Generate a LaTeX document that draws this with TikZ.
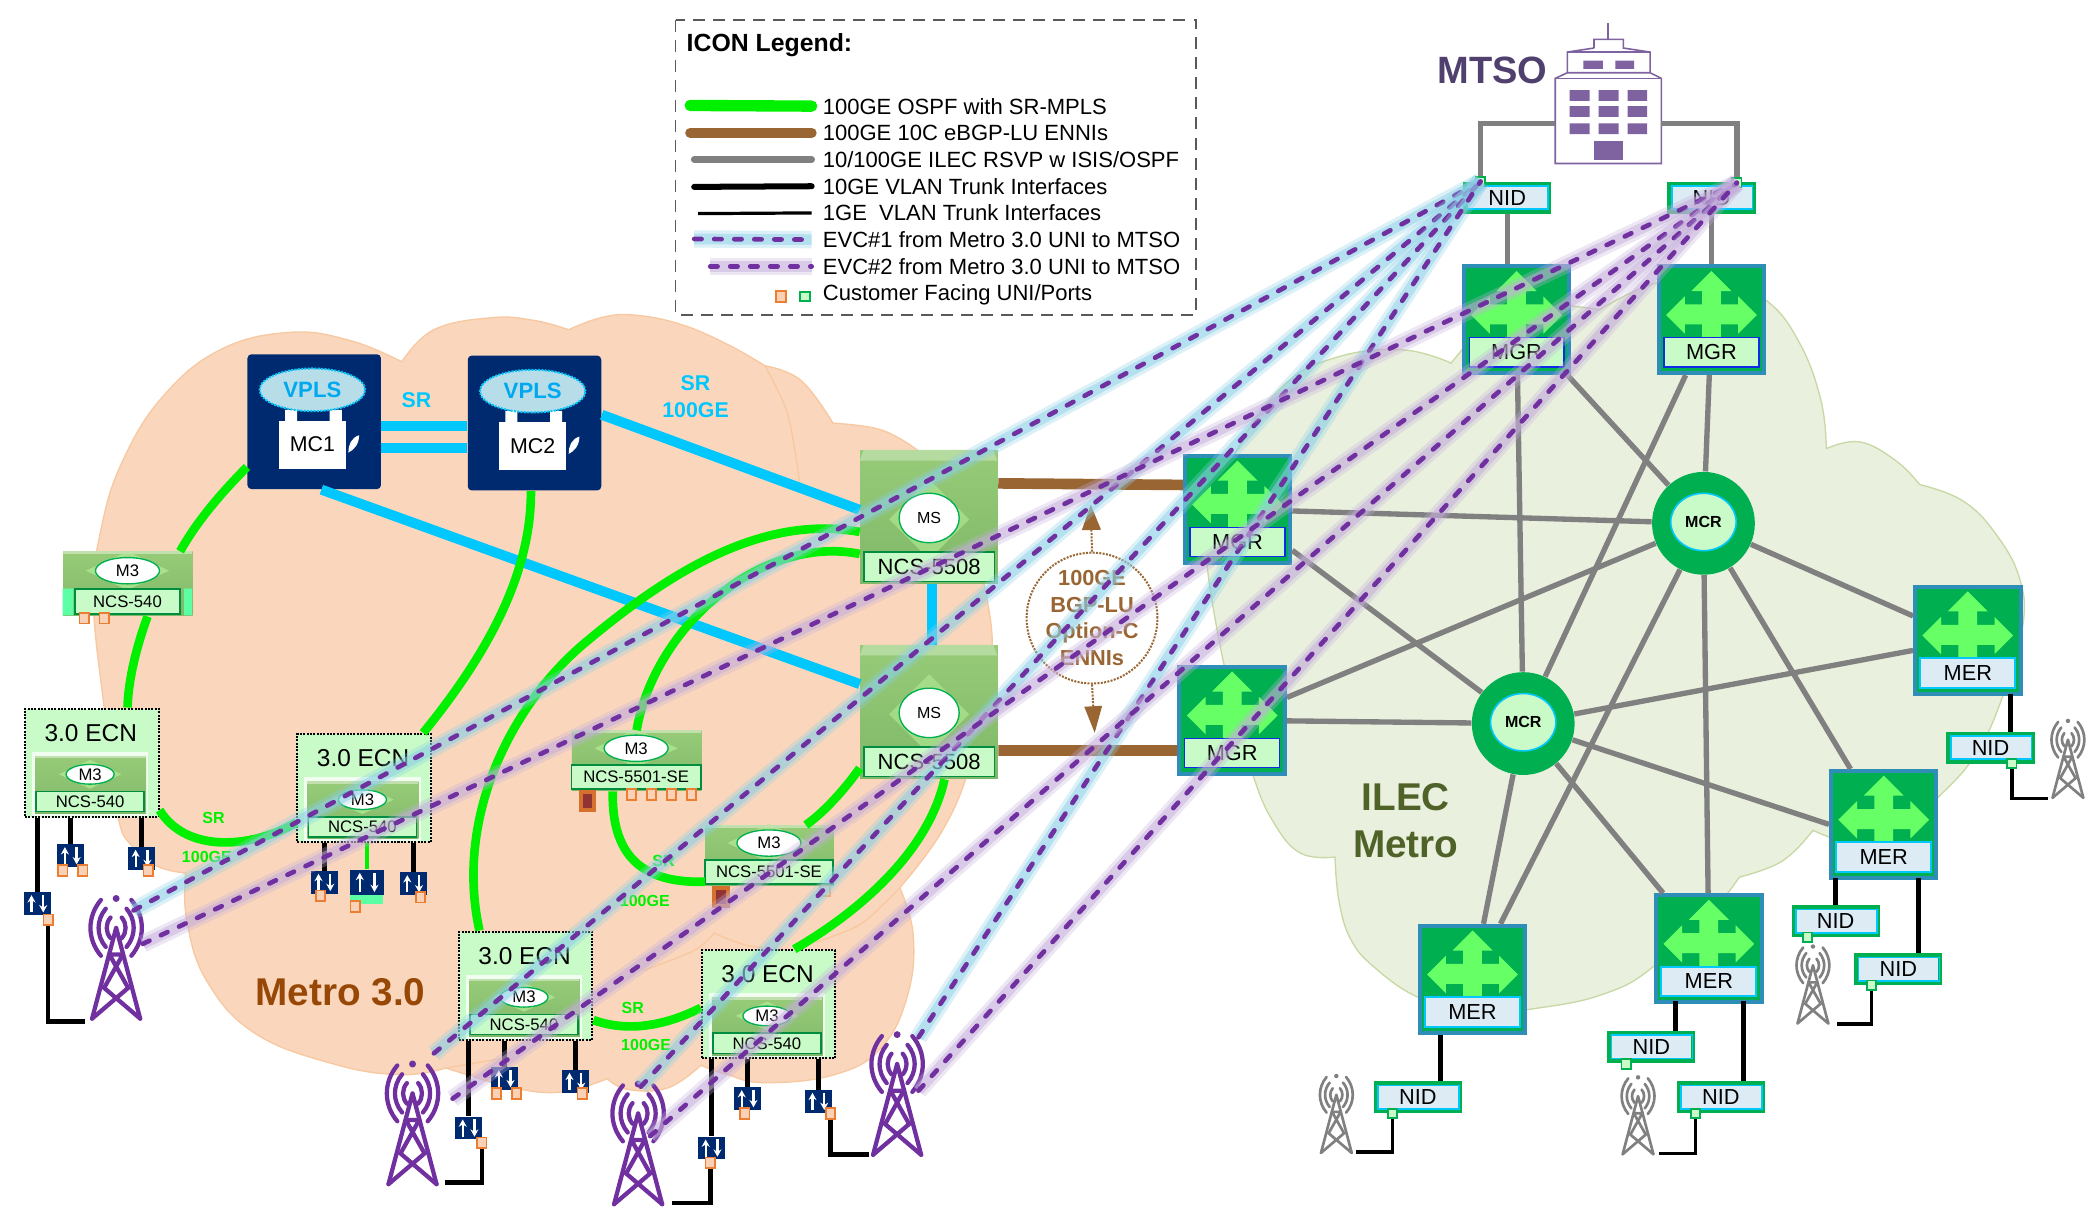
\documentclass[tikz,border=0pt]{standalone}
\usepackage{fontspec}
\setmainfont{Liberation Sans}
\usetikzlibrary{shapes.geometric,arrows.meta}

\definecolor{peachfill}{HTML}{FAD7BC}
\definecolor{peachedge}{HTML}{F8C8A0}
\definecolor{ilecfill}{HTML}{EAF0DE}
\definecolor{ilecedge}{HTML}{C8D8A4}
\definecolor{limeline}{HTML}{00F000}
\definecolor{skyline}{HTML}{00C8FF}
\definecolor{brownline}{HTML}{996633}
\definecolor{greyline}{HTML}{808080}
\definecolor{evcpurple}{HTML}{7030A0}
\definecolor{evcblueglow}{HTML}{8CCFE6}
\definecolor{evcpurpleglow}{HTML}{C4AEDB}
\definecolor{navybox}{HTML}{002A70}
\definecolor{routergreen}{HTML}{00B050}
\definecolor{routerarrow}{HTML}{66FF66}
\definecolor{routeredge}{HTML}{2E8EB8}
\definecolor{palegreen}{HTML}{C8FBC8}
\definecolor{paleblue}{HTML}{DCEBF4}
\definecolor{portorange}{HTML}{ED7D31}
\definecolor{bldgpurple}{HTML}{7F63A1}
\definecolor{mtopgreen}{HTML}{97CB78}
\definecolor{mlowgreen}{HTML}{7FB868}
\definecolor{mglowgreen}{HTML}{B4EC96}
\definecolor{stripgreen}{HTML}{5CFFA3}
\definecolor{vplsfill}{HTML}{B7DDE8}
\definecolor{vplstext}{HTML}{00A8F0}
\definecolor{metrobrown}{HTML}{974806}
\definecolor{ilecolive}{HTML}{4F6228}
\definecolor{mtsotextc}{HTML}{50406E}

\newcommand{\fsz}[1]{\fontsize{#1}{#1}\selectfont}

\tikzset{every picture/.style={line width=0.75pt},
  peachcloud/.style={fill=peachfill,draw=peachedge,line width=1pt},
  peachinner/.style={draw=peachedge,line width=1pt},
  ileccloud/.style={fill=ilecfill,draw=ilecedge,line width=1pt},
  greenlink/.style={draw=limeline,line width=6.5pt},
  bluelink/.style={draw=skyline,line width=7.5pt},
  brownlink/.style={draw=brownline,line width=8pt},
  greylink/.style={draw=greyline,line width=4pt},
  blacklink/.style={draw=black,line width=3.5pt},
  thinlink/.style={draw=black,line width=2.5pt},
  evcone/.style={draw=evcpurple,line width=3.5pt,line cap=round,dash pattern=on 5.5pt off 9.5pt,
    preaction={draw=evcblueglow,solid,line cap=butt,line width=13pt,opacity=.3},
    preaction={draw=evcblueglow,solid,line cap=butt,line width=8pt,opacity=.5}},
  evctwo/.style={draw=evcpurple,line width=3.5pt,line cap=round,dash pattern=on 5.5pt off 9.5pt,
    preaction={draw=evcpurpleglow,solid,line cap=butt,line width=13pt,opacity=.3},
    preaction={draw=evcpurpleglow,solid,line cap=butt,line width=8pt,opacity=.5}},
  routerbody/.style={draw=routeredge,fill=routergreen,line width=3pt,minimum width=79pt,minimum height=80pt,inner sep=0},
  mgrlabel/.style={draw=blue!70!routeredge,fill=palegreen,line width=1pt,minimum width=71pt,minimum height=22pt,inner sep=0,font=\fsz{16.3}},
  merlabel/.style={draw=skyline,fill=paleblue,line width=1.5pt,minimum width=71pt,minimum height=22pt,inner sep=0,font=\fsz{16.3}},
  nidbody/.style={draw=routergreen,fill=paleblue,line width=3pt,minimum width=63pt,minimum height=21pt,inner sep=0,font=\fsz{16.3}},
  mcrring/.style={circle,draw=none,fill=routergreen,minimum size=77pt,inner sep=0},
  mcrcore/.style={ellipse,draw=skyline,fill=palegreen,line width=1.2pt,minimum width=49pt,minimum height=43pt,inner sep=0,font=\bfseries\fsz{12}},
  mbody/.style={top color=mtopgreen,bottom color=mlowgreen,draw=none,inner sep=0},
  moval/.style={ellipse,draw=routergreen,fill=white,line width=1pt,inner sep=0,font=\fsz{12.5}},
  mlabel/.style={draw=routergreen!80!black,fill=palegreen,line width=1.2pt,inner sep=0,font=\fsz{12.5}},
  ecnbody/.style={draw=black,densely dotted,fill=palegreen,line width=1.5pt,minimum width=100pt,minimum height=81pt,inner sep=0},
  ecntitle/.style={inner sep=0,font=\fsz{18.3}},
  iconbox/.style={fill=navybox,draw=none,inner sep=0},
  iconarrow/.style={draw=white,line width=1.7pt,-{Stealth[length=5.5pt,width=6pt]}},
  oport/.style={draw=portorange,fill=portorange!35,line width=1.3pt,minimum width=7pt,minimum height=8pt,inner sep=0},
  gport/.style={draw=routergreen,fill=palegreen,line width=1.3pt,minimum width=7pt,minimum height=7pt,inner sep=0},
  darkport/.style={draw=portorange!90!black,fill=red!45!black!80,line width=3pt,minimum width=10pt,minimum height=14pt,inner sep=0},
  srtext/.style={inner sep=0,text=limeline,font=\bfseries\fsz{12}},
  skytext/.style={inner sep=0,text=skyline,font=\bfseries\fsz{16}},
  legtext/.style={anchor=west,inner sep=0,font=\fsz{16.5}}}

%router with the four way arrow
\newcommand{\routerbox}[5]{%
  \node[routerbody,anchor=north west] (#1) at (#2,#3) {};
  \begin{scope}[shift={(#2+41,#3)}]
    \fill[routerarrow] (0,5) -- (15,20) -- (7,20) -- (7,30) -- (20,30) -- (20,24) -- (34,38) -- (20,52) -- (20,45) -- (7,45) -- (7,55) -- (-7,55) -- (-7,45) -- (-20,45) -- (-20,52) -- (-34,38) -- (-20,24) -- (-20,30) -- (-7,30) -- (-7,20) -- (-15,20) -- cycle;
    \node[#5] (#1-label) at (0,66) {#4};
  \end{scope}}
%small box with an oval on top of its label
\newcommand{\mdev}[9]{%
  \node[mbody,anchor=north west,minimum width=#4pt,minimum height=#5pt] (#1) at (#2,#3) {};
  \begin{scope}[shift={(#2,#3)}]
    \fill[mglowgreen,opacity=.7] (#4/2-1.3*#6,#5/2-#8/2) -- (#4/2,#5/2-#8/2-0.6*#6) -- (#4/2+1.3*#6,#5/2-#8/2) -- (#4/2,#5/2-#8/2+0.6*#6) -- cycle;
    \fill[white!40!mtopgreen] (0,0) rectangle (#4,2);
    \node[moval,minimum width=2*#6pt,minimum height=0.82*#6pt] (#1-oval) at (#4/2,#5/2-#8/2) {M3};
    \node[mlabel,minimum width=#4pt-2*#9pt,minimum height=#8pt] (#1-label) at (#4/2,#5-#8/2-1) {#7};
  \end{scope}}
\newcommand{\msdev}[3]{%
  \node[mbody,anchor=north west,minimum width=103pt,minimum height=100pt] (#1) at (#2,#3) {};
  \begin{scope}[shift={(#2,#3)}]
    \fill[white!30!mtopgreen] (3,0) -- (100,0) -- (103,8) -- (0,8) -- cycle;
    \fill[mglowgreen,opacity=.6] (52,22) -- (82,52) -- (52,82) -- (22,52) -- cycle;
    \node[moval,minimum width=45pt,minimum height=37pt,font=\fsz{12}] (#1-oval) at (52,51) {MS};
    \node[mlabel,minimum width=98pt,minimum height=22pt,font=\fsz{16.5}] (#1-label) at (52,87.5) {NCS-5508};
  \end{scope}}
\newcommand{\ecnbox}[3]{%
  \node[ecnbody,anchor=north west] (#1) at (#2,#3) {};
  \node[ecntitle] (#1-title) at (#2+50,#3+19) {3.0 ECN};
  \fill[white,opacity=.75] (#2+6,#3+33) rectangle (#2+93,#3+81);
  \mdev{#1-dev}{#2+8}{#3+36}{83}{43}{18}{NCS-540}{15}{1}}
\newcommand{\mcbox}[4]{%
  \node[fill=navybox,rounded corners=3pt,minimum width=100pt,minimum height=101pt,inner sep=0,anchor=north west] (#1) at (#2,#3) {};
  \begin{scope}[shift={(#2,#3)}]
    \fill[white] (28.5,42) rectangle (37.5,52) (62,42) rectangle (71,52);
    \node[ellipse,draw=skyline,densely dotted,fill=vplsfill,line width=1.5pt,minimum width=79pt,minimum height=32pt,inner sep=0,text=vplstext,font=\bfseries\fsz{16.6}] (#1-vpls) at (49,27) {VPLS};
    \node[fill=white,minimum width=50pt,minimum height=36pt,inner sep=0,font=\fsz{16}] (#1-lbl) at (49,68) {#4};
    \fill[white] (84,61) .. controls (84,68) and (80,72) .. (76,74) .. controls (76,68) and (78,63) .. cycle;
  \end{scope}}
\newcommand{\trunkicon}[5]{%
  \node[iconbox,minimum width=#4pt,minimum height=#5pt] (#1) at (#2,#3) {};
  \draw[iconarrow] (#2-0.22*#4,#3+0.38*#5) -- (#2-0.22*#4,#3-0.38*#5);
  \draw[iconarrow] (#2+0.22*#4,#3-0.38*#5) -- (#2+0.22*#4,#3+0.38*#5);}
\newcommand{\towerpic}[5]{%
  \begin{scope}[shift={(#2,#3)},scale=#4,#5,line cap=round]
    \draw (0,22) -- (-18,90) (0,22) -- (18,90);
    \draw (-5,42) -- (9,67) -- (-18,90) (5,42) -- (-9,67) -- (18,90) (-5,42) -- (5,42);
    \foreach \r in {7,13,19}{
      \draw (-0.6*\r,22-1.1*\r) .. controls (-1.15*\r,22-0.45*\r) and (-1.15*\r,22+0.45*\r) .. (-0.6*\r,22+1.1*\r);
      \draw (0.6*\r,22-1.1*\r) .. controls (1.15*\r,22-0.45*\r) and (1.15*\r,22+0.45*\r) .. (0.6*\r,22+1.1*\r);}
    \fill circle (2.6);
    \coordinate (#1) at (0,22);
  \end{scope}}
\newcommand{\nidbox}[3]{%
  \node[nidbody,anchor=north west] (#1) at (#2,#3) {NID};
  \draw[skyline,line width=1.3pt] (#2+3.2,#3+3.2) rectangle (#2+63.8,#3+20.8);}

\begin{document}
\begin{tikzpicture}[x=1pt,y=1pt,yscale=-1,xscale=1]
\useasboundingbox (0,0) rectangle (1567.8,920.6);

%Shape: Cloud Metro 3.0
\draw[peachcloud] plot[smooth,tension=.7] coordinates {(139,654) (118,649) (100,635) (88,610) (78,530) (70,450) (76,395) (92,345) (122,297) (165,262) (217,249) (262,255) (301,271)}
 -- plot[smooth,tension=.7] coordinates {(301,271) (325,247) (368,238) (400,240) (426,247)}
 -- plot[smooth,tension=.7] coordinates {(426,247) (450,238) (475,236) (510,243) (545,258) (573,274)}
 -- plot[smooth,tension=.7] coordinates {(573,274) (600,285) (624,317)}
 -- plot[smooth,tension=.7] coordinates {(624,317) (660,322) (687,337)}
 -- plot[smooth,tension=.7] coordinates {(687,337) (718,375) (739,447) (742,505) (727,572) (706,622) (674,665)}
 -- plot[smooth,tension=.7] coordinates {(674,665) (684,700) (680,745) (660,785) (625,805) (573,811) (545,805) (525,798)}
 -- plot[smooth,tension=.7] coordinates {(525,798) (500,815) (470,816) (455,808)}
 -- plot[smooth,tension=.7] coordinates {(455,808) (420,818) (385,815) (350,805) (334,800)}
 -- plot[smooth,tension=.7] coordinates {(334,800) (300,805) (250,797) (191,774) (155,735) (140,690) (139,654)} -- cycle;
\draw[peachinner] plot[smooth] coordinates {(573,274) (590,310) (599,361)};
\draw[peachinner] plot[smooth] coordinates {(482,727) (520,712) (535,699)};
\draw[peachinner] plot[smooth] coordinates {(535,699) (559,708) (597,713)};
\draw[peachinner] plot[smooth] coordinates {(674,665) (645,692) (611,706)};
\draw[peachinner] plot[smooth] coordinates {(334,800) (375,793)};
%Shape: Cloud ILEC
\draw[ileccloud] plot[smooth,tension=.7] coordinates {(1087,272) (1112,245) (1140,232) (1170,229) (1198,232)}
 -- plot[smooth,tension=.7] coordinates {(1198,232) (1240,212) (1285,208) (1323,225) (1348,257) (1364,300) (1368,336)}
 -- plot[smooth,tension=.7] coordinates {(1368,336) (1393,331) (1420,345) (1438,363)}
 -- plot[smooth,tension=.7] coordinates {(1438,363) (1470,375) (1495,400) (1513,434) (1515,470) (1500,522) (1480,565) (1451,598) (1420,625) (1390,632) (1358,622)}
 -- plot[smooth,tension=.7] coordinates {(1358,622) (1335,645) (1303,657)} -- (1295,668)
 -- plot[smooth,tension=.7] coordinates {(1295,668) (1241,722) (1200,745) (1146,756) (1103,760) (1062,747) (1030,725) (1012,704) (1003,675) (1000,642)}
 -- plot[smooth,tension=.7] coordinates {(1000,642) (974,639) (954,616) (939,582) (925,530) (914,484) (904,422) (905,395) (925,340) (960,290) (1000,268) (1050,262) (1087,272)} -- cycle;

%Shape: Legend frame
\draw[dash pattern={on 9pt off 6pt},draw=black!65,line width=1.4pt] (506,15) rectangle (896,236);
% Text Node
\node[anchor=west,inner sep=0,font=\bfseries\fsz{18.6}] (legtitle) at (514,34) {ICON Legend:};
\node[legtext] (leggreen) at (616,79.5) {100GE OSPF with SR-MPLS};
\node[legtext] (legbrown) at (616,99.5) {100GE 10C eBGP-LU ENNIs};
\node[legtext] (leggrey) at (616,119.5) {10/100GE ILEC RSVP w ISIS/OSPF};
\node[legtext] (legblack) at (616,139.5) {10GE VLAN Trunk Interfaces};
\node[legtext] (legthin) at (616,159.5) {1GE\ \ VLAN Trunk Interfaces};
\node[legtext] (legone) at (616,179.5) {EVC\#1 from Metro 3.0 UNI to MTSO};
\node[legtext] (legtwo) at (616,199.5) {EVC\#2 from Metro 3.0 UNI to MTSO};
\node[legtext] (legport) at (616,220.5) {Customer Facing UNI/Ports};
\node[oport] (legoport) at (585,222) {};
\node[gport] (leggport) at (603,222) {};
%Straight Lines
\draw[limeline,line width=8.5pt,line cap=round] (517,79) -- ([xshift=-8pt]leggreen.west);
\draw[brownline,line width=7.5pt,line cap=round] (517,99.5) -- ([xshift=-8pt]legbrown.west);
\draw[greyline,line width=5pt,line cap=round] (520,119.5) -- ([xshift=-8pt]leggrey.west);
\draw[black,line width=4.5pt,line cap=round] (520,140) -- ([xshift=-8pt]legblack.west);
\draw[black,line width=2.4pt] (523,160) -- ([xshift=-8pt]legthin.west);
\draw[evcone] (520,179) -- ([xshift=-8pt]legone.west);
\draw[evctwo] (532,199.5) -- ([xshift=-8pt]legtwo.west);

%Shape: MTSO building
\begin{scope}[draw=bldgpurple,line width=1.2pt]
\draw (1204.5,17.5) -- (1204.5,29.5);
\draw (1194,36) -- (1194,29.5) -- (1216,29.5) -- (1216,36) -- (1236,39) -- (1236,55) (1194,36) -- (1174,39) -- (1174,55);
\draw (1174,39) -- (1236,39);
\draw[fill=white] (1165,58.7) -- (1174,54.5) -- (1236,54.5) -- (1244.5,58.7) -- (1244.5,122.5) -- (1165,122.5) -- cycle;
\draw (1165,58.7) -- (1244.5,58.7);
\fill[bldgpurple] (1186,45.5) rectangle (1200.7,51.5) (1210,45.5) rectangle (1224,51.5);
\foreach \wy in {67.5,79.5,92.5}{
  \fill[bldgpurple] (1175.7,\wy) rectangle (1190.7,\wy+8) (1197.4,\wy) rectangle (1212.4,\wy+8) (1219.2,\wy) rectangle (1233.7,\wy+8);}
\fill[bldgpurple] (1193.7,105.7) rectangle (1215.7,119.5);
\end{scope}
\coordinate (mtsoleft) at (1165,92.5);
\coordinate (mtsoright) at (1244.5,92.5);
% Text Node
\node[inner sep=0,text=mtsotextc,font=\bfseries\fsz{28.5}] (mtsotext) at (1118,53) {MTSO};
\node[inner sep=0,text=metrobrown,font=\bfseries\fsz{29}] (metrotext) at (255,743) {Metro 3.0};
\node[inner sep=0,align=center,text=ilecolive,font=\bfseries\fontsize{29}{35}\selectfont] (ilectext) at (1053,615) {ILEC\\Metro};

%Shape: MC routers
\mcbox{mcone}{185}{265}{MC1}
\mcbox{mctwo}{350}{266}{MC2}
%Shape: MS routers
\msdev{msa}{644}{337}
\msdev{msb}{644}{483}
%Shape: M3 routers
\mdev{ncsa}{47}{413}{97}{48}{24}{NCS-540}{19}{9}
\fill[stripgreen] (47,441) rectangle (55,461) (138,441) rectangle (144,461);
\mdev{dse}{428}{547}{97}{45}{24}{NCS-5501-SE}{18}{0}
\mdev{dsf}{528}{618}{96}{45}{24}{NCS-5501-SE}{18}{0}
%Shape: ECN boxes
\ecnbox{ecna}{18}{530}
\ecnbox{ecnb}{222}{549}
\ecnbox{ecnc}{343}{697}
\ecnbox{ecnd}{525}{711}

%Shape: ILEC routers
\routerbox{mgra}{1095}{198}{MGR}{mgrlabel}
\routerbox{mgrb}{1241}{198}{MGR}{mgrlabel}
\routerbox{mgrc}{886}{340}{MGR}{mgrlabel}
\routerbox{mgrd}{882}{498}{MGR}{mgrlabel}
\routerbox{mera}{1433}{438}{MER}{merlabel}
\routerbox{merb}{1370}{576}{MER}{merlabel}
\routerbox{merc}{1239}{669}{MER}{merlabel}
\routerbox{merd}{1062}{692}{MER}{merlabel}
\node[mcrring] (mcra) at (1276,392) {};
\node[mcrcore] (mcra-core) at (1276,391) {MCR};
\node[mcrring] (mcrb) at (1141,542) {};
\node[mcrcore] (mcrb-core) at (1141,541) {MCR};

%Shape: NID boxes
\nidbox{nida}{1096}{136}
\nidbox{nidb}{1249}{136}
\nidbox{nidc}{1458}{548}
\nidbox{nidd}{1342}{678}
\nidbox{nide}{1389}{714}
\nidbox{nidf}{1204}{772}
\nidbox{nidg}{1256}{810}
\nidbox{nidh}{1029}{810}
\node[gport] (nida-port) at (1109,136) {};
\node[gport] (nidb-port) at (1301,137) {};
\node[gport] (nidc-port) at (1507,572) {};
\node[gport] (nidd-port) at (1354,702) {};
\node[gport] (nide-port) at (1402,738) {};
\node[gport] (nidf-port) at (1218,797) {};
\node[gport] (nidg-port) at (1270,834) {};
\node[gport] (nidh-port) at (1043,834) {};

%Shape: Towers
\towerpic{towa}{87}{673}{1}{draw=evcpurple,fill=evcpurple,line width=3.2pt}
\towerpic{towb}{309}{797}{1}{draw=evcpurple,fill=evcpurple,line width=3.2pt}
\towerpic{towc}{478}{812}{1}{draw=evcpurple,fill=evcpurple,line width=3.2pt}
\towerpic{towd}{672}{775}{1}{draw=evcpurple,fill=evcpurple,line width=3.2pt}
\towerpic{towe}{1001}{806}{0.64}{draw=greyline,fill=greyline,line width=2pt}
\towerpic{towf}{1227}{807}{0.64}{draw=greyline,fill=greyline,line width=2pt}
\towerpic{towg}{1358}{709}{0.64}{draw=greyline,fill=greyline,line width=2pt}
\towerpic{towh}{1549}{540}{0.64}{draw=greyline,fill=greyline,line width=2pt}

%Shape: Trunk icons and ports
\node[oport] (ncsa-pa) at (63,463) {};
\node[oport] (ncsa-pb) at (78,463) {};
\trunkicon{icona}{28}{677}{20}{17}
\trunkicon{iconb}{53}{641}{20}{17}
\trunkicon{iconc}{106}{643}{20}{17}
\node[oport] (icona-p) at (36,689) {};
\node[oport] (iconb-pa) at (47,652) {};
\node[oport] (iconb-pb) at (62,652) {};
\node[oport] (iconc-p) at (111,652) {};
\trunkicon{icond}{243}{661}{20}{17}
\trunkicon{icone}{275}{661}{25}{19}
\trunkicon{iconf}{309.5}{662}{20}{17}
\fill[stripgreen] (262,670.5) rectangle (287,677);
\node[oport] (icond-p) at (240,671) {};
\node[oport] (icone-p) at (266,679) {};
\node[oport] (iconf-p) at (315,672) {};
\trunkicon{icong}{351}{845}{20}{17}
\trunkicon{iconh}{378}{808}{20}{17}
\trunkicon{iconi}{431}{810}{20}{17}
\node[oport] (icong-p) at (361,856) {};
\node[oport] (iconh-pa) at (372,819) {};
\node[oport] (iconh-pb) at (387,819) {};
\node[oport] (iconi-p) at (436,819) {};
\trunkicon{iconj}{533}{860}{20}{17}
\trunkicon{iconk}{560}{823}{20}{17}
\trunkicon{iconl}{613}{825}{20}{17}
\node[oport] (iconj-p) at (532,871) {};
\node[oport] (iconk-p) at (558,834) {};
\node[oport] (iconl-p) at (622,834) {};
\node[darkport] (dse-dark) at (440,600) {};
\node[darkport] (dsf-dark) at (540,672) {};
\node[oport] (dse-pa) at (473,595) {};
\node[oport] (dse-pb) at (488,595) {};
\node[oport] (dse-pc) at (503,595) {};
\node[oport] (dse-pd) at (518,595) {};
\node[oport,opacity=.5] (dsf-pa) at (618,667) {};

%Straight Lines
\draw[bluelink] ([yshift=3.5pt]mcone.east) -- ([yshift=2.5pt]mctwo.west);
\draw[bluelink] ([yshift=19.5pt]mcone.east) -- ([yshift=18.5pt]mctwo.west);
\draw[bluelink] (mctwo.7) -- (msa.174);
\draw[bluelink] (mcone.-84) -- (msb.158);
\draw[bluelink] ([xshift=2.5pt]msa.south) -- ([xshift=2.5pt]msb.north);
\draw[brownlink] (msa.26) -- (mgrc.156);
\draw[brownlink] (msb.-29) -- (mgrd.209);
%Curve Lines
\draw[greenlink] (mcone.214) .. controls (160,375) and (145,395) .. (ncsa.32);
\draw[greenlink] (ncsa.-59) .. controls (102,485) and (96,510) .. (ecna.57);
\draw[greenlink] (mctwo.-93) .. controls (398,430) and (365,490) .. (ecnb.43);
\draw[greenlink] (ecna.-35) .. controls (140,640) and (190,635) .. (ecnb.207);
\draw[greenlink] (msa.192) .. controls (570,385) and (500,430) .. (440,480) .. controls (385,525) and (340,610) .. (ecnc.130);
\draw[greenlink] (msa.208) .. controls (570,400) and (490,470) .. (dse.north);
\draw[greenlink] (dse.232) .. controls (458,640) and (480,662) .. (dsf.202);
\draw[greenlink] (msb.219) .. controls (630,595) and (615,610) .. (dsf.40);
\draw[greenlink] (msb.-77) .. controls (695,640) and (640,685) .. (ecnd.65);
\draw[greenlink] (ecnc.-27) .. controls (475,775) and (505,765) .. (ecnd.183);

%Straight Lines
\draw[greylink] (mtsoleft) -| (nida-port);
\draw[greylink] (mtsoright) -| (nidb-port);
\draw[greylink] (nida.south) -- (nida.south |- mgra.north);
\draw[greylink] (nidb.south) -- (nidb.south |- mgrb.north);
\draw[greylink] (mgra) -- (mcrb);
\draw[greylink] (mgra) -- (mcra);
\draw[greylink] (mgrb) -- (mcrb);
\draw[greylink] (mgrb) -- (mcra);
\draw[greylink] (mgrc) -- (mcra);
\draw[greylink] (mgrc) -- (mcrb);
\draw[greylink] (mgrd) -- (mcra);
\draw[greylink] (mgrd) -- (mcrb);
\draw[greylink] (mera) -- (mcra);
\draw[greylink] (mera) -- (mcrb);
\draw[greylink] (merb) -- (mcra);
\draw[greylink] (merb.west) -- (mcrb);
\draw[greylink] (merc) -- (mcra);
\draw[greylink] (merc) -- (mcrb);
\draw[greylink] (merd) -- (mcra);
\draw[greylink] (merd) -- (mcrb);

\coordinate (enda) at (64,765);
\coordinate (endb) at (333,886);
\coordinate (endc) at (503,901);
\coordinate (endd) at (651,865);
\coordinate (ende) at (1016,863);
\coordinate (endf) at (1243,864);
\coordinate (endg) at (1376,767);
\coordinate (endh) at (1534,598);
\draw[blacklink] (icona |- ecna.south) -- (icona.north);
\draw[blacklink] (iconb |- ecna.south) -- (iconb.north);
\draw[blacklink] (iconc |- ecna.south) -- (iconc.north);
\draw[blacklink] (icona-p.south) |- (enda);
\draw[blacklink] (icond |- ecnb.south) -- (icond.north);
\draw[limeline,line width=3pt] (icone |- ecnb.south) -- (icone.north);
\draw[blacklink] (iconf |- ecnb.south) -- (iconf.north);
\draw[blacklink] (icong |- ecnc.south) -- (icong.north);
\draw[blacklink] (iconh |- ecnc.south) -- (iconh.north);
\draw[blacklink] (iconi |- ecnc.south) -- (iconi.north);
\draw[blacklink] (icong-p.south) |- (endb);
\draw[blacklink] (iconj |- ecnd.south) -- (iconj.north);
\draw[blacklink] (iconk |- ecnd.south) -- (iconk.north);
\draw[blacklink] (iconl |- ecnd.south) -- (iconl.north);
\draw[blacklink] (iconj-p.south) |- (endc);
\draw[blacklink] (iconl-p.south) |- (endd);
\coordinate (tapc) at (1506,520);
\draw[blacklink] (tapc) -- (tapc |- nidc.north);
\coordinate (tapd) at (1375,658);
\draw[blacklink] (tapd) -- (tapd |- nidd.north);
\coordinate (tape) at (1437,658);
\draw[blacklink] (tape) -- (tape |- nide.north);
\coordinate (tapf) at (1255,750);
\draw[blacklink] (tapf) -- (tapf |- nidf.north);
\coordinate (tapg) at (1306,750);
\draw[blacklink] (tapg) -- (tapg |- nidg.north);
\coordinate (taph) at (1079,775);
\draw[blacklink] (taph) -- (taph |- nidh.north);
\draw[thinlink] (nidh-port.south) |- (ende);
\draw[thinlink] (nidg-port.south) |- (endf);
\draw[thinlink] (nide-port.south) |- (endg);
\draw[thinlink] (nidc-port.south) |- (endh);

% Text Node
\node[skytext] (srmc) at (312,300) {SR};
\node[skytext] (srtop) at (521,287) {SR};
\node[skytext] (getop) at (521,307) {100GE};
\node[srtext] (srleft) at (160,613) {SR};
\node[srtext] (geleft) at (155,642) {100GE};
\node[srtext] (srmid) at (497,645) {SR};
\node[srtext] (gemid) at (483,675) {100GE};
\node[srtext] (srlow) at (474,755) {SR};
\node[srtext] (gelow) at (484,783) {100GE};

%Shape: ENNI note
\node[circle,draw=brownline,densely dotted,line width=1.5pt,minimum size=98pt,inner sep=0] (enni) at (818,463) {};
\node[inner sep=0,align=center,text=brownline,font=\bfseries\fontsize{16.3}{20}\selectfont] (ennitext) at (818,463) {100GE\\BGP-LU\\Option-C\\ENNIs};
\coordinate (ennitop) at (817,378);
\coordinate (ennilow) at (820,549);
\draw[brownline,densely dotted,line width=1.5pt,-{Triangle[length=19pt,width=14pt]}] (enni.north) -- (ennitop);
\draw[brownline,densely dotted,line width=1.5pt,-{Triangle[length=20pt,width=13pt]}] (enni.south) -- (ennilow);

%Straight Lines EVC
\coordinate (evca) at (100,682);
\coordinate (evcb) at (325,789);
\coordinate (evcc) at (480,814);
\coordinate (evcd) at (688,777);
\coordinate (evce) at (107,707);
\coordinate (evcf) at (339,823);
\coordinate (evcg) at (487,851);
\coordinate (evch) at (688,817);
\draw[evcone] (evca) -- (nida-port.center);
\draw[evcone] (evcb) -- (nida-port.center);
\draw[evcone] (evcc) -- (nida-port.center);
\draw[evcone] (evcd) -- (nida-port.center);
\draw[evctwo] (evce) -- (nidb-port.center);
\draw[evctwo] (evcf) -- (nidb-port.center);
\draw[evctwo] (evcg) -- (nidb-port.center);
\draw[evctwo] (evch) -- (nidb-port.center);

\end{tikzpicture}
\end{document}
